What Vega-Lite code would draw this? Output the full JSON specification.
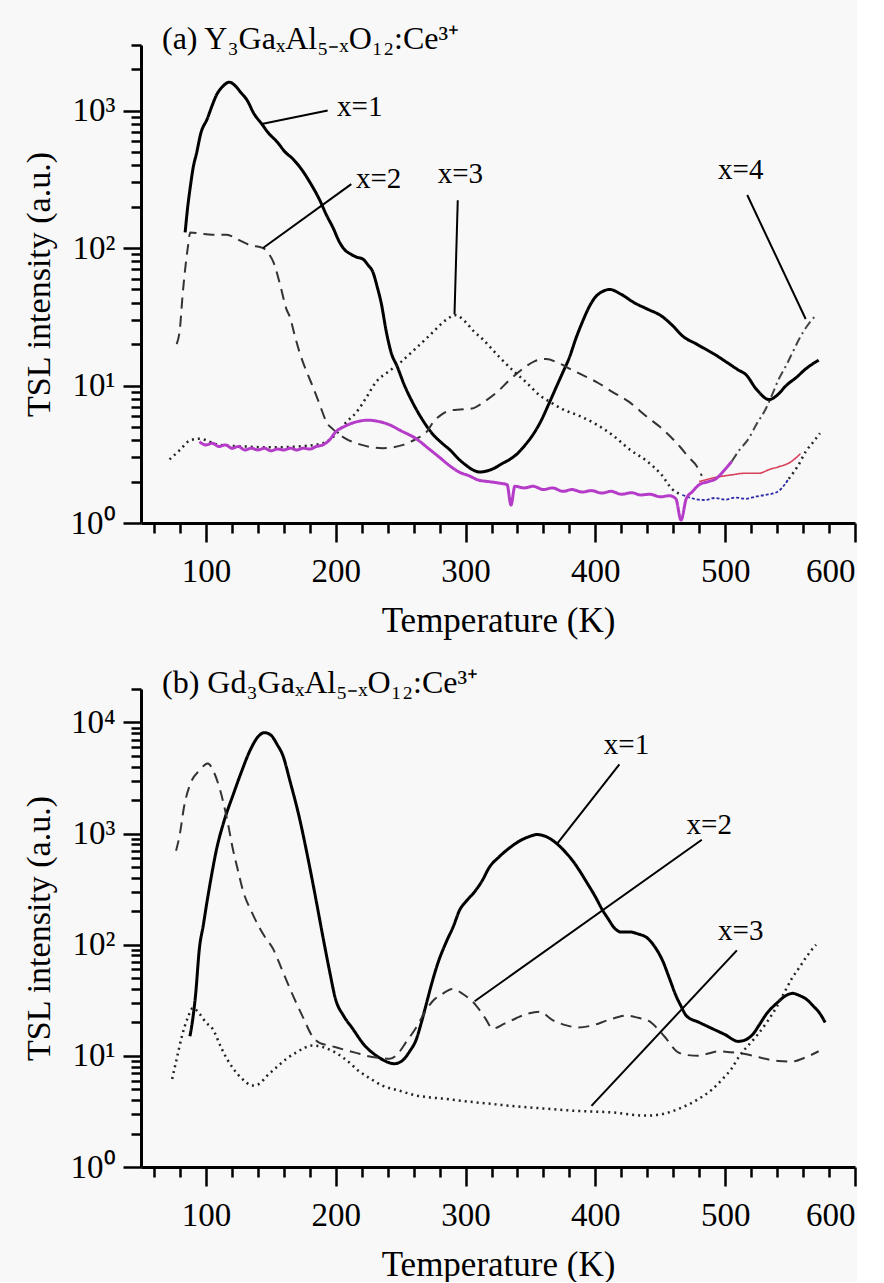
{
  "$schema": "https://vega.github.io/schema/vega-lite/v6.json",
  "background": "#f8f8f8",
  "padding": {"left": 22, "top": 22, "right": 0, "bottom": 0},
  "spacing": 28,
  "config": {
    "view": {"stroke": null},
    "font": "Liberation Serif",
    "axis": {"grid": false, "domainColor": "black", "domainWidth": 3, "tickColor": "black", "tickWidth": 2.5, "labelFont": "Liberation Serif", "labelFontSize": 33, "labelColor": "black", "titleFont": "Liberation Serif", "titleFontSize": 35, "titleFontWeight": "normal", "titleColor": "black"},
    "title": {"font": "Liberation Serif", "fontWeight": "normal", "color": "black"}
  },
  "datasets": {
    "la": [
      {"s":"a1","T":84,"I":130},{"s":"a1","T":86,"I":200},{"s":"a1","T":88,"I":280},{"s":"a1","T":90,"I":376},{"s":"a1","T":93,"I":500},{"s":"a1","T":96,"I":680},{"s":"a1","T":101,"I":870},{"s":"a1","T":105,"I":1100},{"s":"a1","T":108,"I":1290},{"s":"a1","T":113,"I":1500},{"s":"a1","T":118,"I":1610},{"s":"a1","T":123,"I":1500},{"s":"a1","T":127,"I":1350},{"s":"a1","T":131.5,"I":1200},{"s":"a1","T":137,"I":950},{"s":"a1","T":143,"I":800},{"s":"a1","T":148,"I":690},{"s":"a1","T":155,"I":590},{"s":"a1","T":161,"I":500},{"s":"a1","T":167,"I":445},{"s":"a1","T":174,"I":370},{"s":"a1","T":180,"I":302},{"s":"a1","T":187,"I":230},{"s":"a1","T":193,"I":173},{"s":"a1","T":198,"I":140},{"s":"a1","T":203,"I":110},{"s":"a1","T":207,"I":97},{"s":"a1","T":211,"I":91},{"s":"a1","T":216,"I":86},{"s":"a1","T":221,"I":83},{"s":"a1","T":225,"I":75},{"s":"a1","T":228.6,"I":67},{"s":"a1","T":232,"I":52},{"s":"a1","T":235,"I":40},{"s":"a1","T":239,"I":24.5},{"s":"a1","T":243,"I":17},{"s":"a1","T":247,"I":14},{"s":"a1","T":253,"I":10},{"s":"a1","T":259,"I":7.6},{"s":"a1","T":267,"I":5.6},{"s":"a1","T":275,"I":4.4},{"s":"a1","T":282,"I":3.8},{"s":"a1","T":288,"I":3.4},{"s":"a1","T":295,"I":2.9},{"s":"a1","T":300,"I":2.65},{"s":"a1","T":305,"I":2.45},{"s":"a1","T":311,"I":2.35},{"s":"a1","T":317,"I":2.4},{"s":"a1","T":322,"I":2.5},{"s":"a1","T":328,"I":2.7},{"s":"a1","T":334,"I":2.9},{"s":"a1","T":340,"I":3.2},{"s":"a1","T":346,"I":3.7},{"s":"a1","T":352,"I":4.4},{"s":"a1","T":358,"I":5.5},{"s":"a1","T":364,"I":7.3},{"s":"a1","T":370,"I":9.8},{"s":"a1","T":375,"I":12.5},{"s":"a1","T":380,"I":16},{"s":"a1","T":385,"I":22},{"s":"a1","T":390,"I":29},{"s":"a1","T":395,"I":37},{"s":"a1","T":400,"I":44},{"s":"a1","T":405,"I":48},{"s":"a1","T":411,"I":50},{"s":"a1","T":420,"I":46},{"s":"a1","T":430,"I":40},{"s":"a1","T":440,"I":36},{"s":"a1","T":451,"I":32},{"s":"a1","T":460,"I":27},{"s":"a1","T":467,"I":23},{"s":"a1","T":478,"I":20},{"s":"a1","T":493,"I":16.6},{"s":"a1","T":501,"I":14.8},{"s":"a1","T":510,"I":13},{"s":"a1","T":516,"I":12},{"s":"a1","T":524,"I":9.4},{"s":"a1","T":534,"I":7.9},{"s":"a1","T":540,"I":8.5},{"s":"a1","T":547,"I":10},{"s":"a1","T":555,"I":11.5},{"s":"a1","T":562,"I":13.2},{"s":"a1","T":572,"I":15.3},
      {"s":"a2","T":77.5,"I":20},{"s":"a2","T":80,"I":26},{"s":"a2","T":82,"I":45},{"s":"a2","T":84,"I":70},{"s":"a2","T":86,"I":100},{"s":"a2","T":88,"I":130},{"s":"a2","T":95,"I":128},{"s":"a2","T":105,"I":125},{"s":"a2","T":116,"I":125},{"s":"a2","T":125,"I":115},{"s":"a2","T":134,"I":105},{"s":"a2","T":144,"I":100},{"s":"a2","T":148,"I":92},{"s":"a2","T":152,"I":79},{"s":"a2","T":157,"I":55},{"s":"a2","T":162,"I":36},{"s":"a2","T":165,"I":31},{"s":"a2","T":168,"I":24},{"s":"a2","T":172,"I":17.6},{"s":"a2","T":177,"I":13},{"s":"a2","T":182,"I":10},{"s":"a2","T":186,"I":8},{"s":"a2","T":189,"I":6.7},{"s":"a2","T":193,"I":5.4},{"s":"a2","T":198,"I":4.8},{"s":"a2","T":208,"I":4.1},{"s":"a2","T":220,"I":3.7},{"s":"a2","T":236,"I":3.5},{"s":"a2","T":252,"I":3.7},{"s":"a2","T":262,"I":4.1},{"s":"a2","T":270,"I":4.6},{"s":"a2","T":275,"I":5.4},{"s":"a2","T":282,"I":6.2},{"s":"a2","T":288,"I":6.6},{"s":"a2","T":296,"I":6.7},{"s":"a2","T":305,"I":6.8},{"s":"a2","T":315,"I":7.7},{"s":"a2","T":324,"I":8.9},{"s":"a2","T":334,"I":11},{"s":"a2","T":344,"I":13.2},{"s":"a2","T":353,"I":15},{"s":"a2","T":362,"I":15.6},{"s":"a2","T":372,"I":14.5},{"s":"a2","T":382,"I":13},{"s":"a2","T":391,"I":11.8},{"s":"a2","T":401,"I":10.6},{"s":"a2","T":413,"I":9},{"s":"a2","T":426,"I":7.6},{"s":"a2","T":439,"I":6},{"s":"a2","T":452,"I":4.8},{"s":"a2","T":465,"I":3.6},{"s":"a2","T":472,"I":3.0},{"s":"a2","T":478,"I":2.6},{"s":"a2","T":482,"I":2.2},
      {"s":"a2t","T":480,"I":2.0},{"s":"a2t","T":493,"I":2.15},{"s":"a2t","T":505,"I":2.24},{"s":"a2t","T":515,"I":2.3},{"s":"a2t","T":526,"I":2.3},{"s":"a2t","T":534,"I":2.45},{"s":"a2t","T":541,"I":2.56},{"s":"a2t","T":551,"I":2.8},{"s":"a2t","T":558,"I":3.2},
      {"s":"a3","T":72,"I":2.9},{"s":"a3","T":80,"I":3.4},{"s":"a3","T":88,"I":4.0},{"s":"a3","T":95,"I":4.1},{"s":"a3","T":110,"I":3.7},{"s":"a3","T":130,"I":3.6},{"s":"a3","T":150,"I":3.55},{"s":"a3","T":170,"I":3.6},{"s":"a3","T":190,"I":3.8},{"s":"a3","T":200,"I":4.4},{"s":"a3","T":208,"I":5.4},{"s":"a3","T":216,"I":6.4},{"s":"a3","T":224,"I":8.3},{"s":"a3","T":231,"I":10.6},{"s":"a3","T":240,"I":12.5},{"s":"a3","T":249,"I":14.5},{"s":"a3","T":260,"I":18},{"s":"a3","T":272,"I":23},{"s":"a3","T":285,"I":30},{"s":"a3","T":292,"I":32.5},{"s":"a3","T":300,"I":29},{"s":"a3","T":306,"I":25},{"s":"a3","T":313,"I":21.8},{"s":"a3","T":325,"I":16.5},{"s":"a3","T":336,"I":13},{"s":"a3","T":347,"I":10.5},{"s":"a3","T":357,"I":8.5},{"s":"a3","T":366,"I":7.5},{"s":"a3","T":375,"I":6.7},{"s":"a3","T":388,"I":6},{"s":"a3","T":401,"I":5.2},{"s":"a3","T":414,"I":4.3},{"s":"a3","T":426,"I":3.45},{"s":"a3","T":440,"I":2.8},{"s":"a3","T":451,"I":2.24},{"s":"a3","T":459,"I":1.77},{"s":"a3","T":467,"I":1.6},
      {"s":"a3t","T":467,"I":1.6},{"s":"a3t","T":476,"I":1.5},{"s":"a3t","T":484,"I":1.47},{"s":"a3t","T":492,"I":1.52},{"s":"a3t","T":500,"I":1.48},{"s":"a3t","T":508,"I":1.53},{"s":"a3t","T":516,"I":1.5},{"s":"a3t","T":524,"I":1.56},{"s":"a3t","T":531,"I":1.6},{"s":"a3t","T":540,"I":1.68},{"s":"a3t","T":549,"I":2.1},
      {"s":"a3e","T":549,"I":2.1},{"s":"a3e","T":556,"I":2.6},{"s":"a3e","T":562,"I":3.3},{"s":"a3e","T":568,"I":3.9},{"s":"a3e","T":573,"I":4.5},
      {"s":"a4","T":95,"I":3.9},{"s":"a4","T":100,"I":3.7},{"s":"a4","T":105,"I":3.8},{"s":"a4","T":110,"I":3.6},{"s":"a4","T":115,"I":3.7},{"s":"a4","T":120,"I":3.5},{"s":"a4","T":125,"I":3.6},{"s":"a4","T":130,"I":3.4},{"s":"a4","T":135,"I":3.5},{"s":"a4","T":140,"I":3.4},{"s":"a4","T":145,"I":3.5},{"s":"a4","T":150,"I":3.35},{"s":"a4","T":155,"I":3.45},{"s":"a4","T":160,"I":3.4},{"s":"a4","T":165,"I":3.5},{"s":"a4","T":170,"I":3.4},{"s":"a4","T":175,"I":3.5},{"s":"a4","T":180,"I":3.45},{"s":"a4","T":185,"I":3.6},{"s":"a4","T":190,"I":3.7},{"s":"a4","T":195,"I":4.0},{"s":"a4","T":200,"I":4.6},{"s":"a4","T":206,"I":5.0},{"s":"a4","T":212,"I":5.3},{"s":"a4","T":218,"I":5.5},{"s":"a4","T":225,"I":5.6},{"s":"a4","T":232,"I":5.5},{"s":"a4","T":241,"I":5.2},{"s":"a4","T":250,"I":4.7},{"s":"a4","T":262,"I":4.1},{"s":"a4","T":272,"I":3.45},{"s":"a4","T":280,"I":3.0},{"s":"a4","T":288,"I":2.6},{"s":"a4","T":295,"I":2.35},{"s":"a4","T":303,"I":2.2},{"s":"a4","T":310,"I":2.05},{"s":"a4","T":318,"I":2.0},{"s":"a4","T":326,"I":1.95},{"s":"a4","T":332,"I":1.9},{"s":"a4","T":335,"I":1.35},{"s":"a4","T":338,"I":1.85},{"s":"a4","T":345,"I":1.8},{"s":"a4","T":352,"I":1.85},{"s":"a4","T":360,"I":1.75},{"s":"a4","T":367,"I":1.8},{"s":"a4","T":375,"I":1.7},{"s":"a4","T":382,"I":1.75},{"s":"a4","T":390,"I":1.68},{"s":"a4","T":397,"I":1.72},{"s":"a4","T":405,"I":1.65},{"s":"a4","T":412,"I":1.7},{"s":"a4","T":420,"I":1.62},{"s":"a4","T":428,"I":1.66},{"s":"a4","T":435,"I":1.6},{"s":"a4","T":442,"I":1.62},{"s":"a4","T":450,"I":1.55},{"s":"a4","T":457,"I":1.58},{"s":"a4","T":462,"I":1.5},{"s":"a4","T":466,"I":1.05},{"s":"a4","T":470,"I":1.5},{"s":"a4","T":475,"I":1.7},{"s":"a4","T":480,"I":1.9},{"s":"a4","T":487,"I":2.0},{"s":"a4","T":493,"I":2.1},{"s":"a4","T":499,"I":2.4},{"s":"a4","T":505,"I":2.8},
      {"s":"a4d","T":505,"I":2.8},{"s":"a4d","T":511,"I":3.4},{"s":"a4d","T":518,"I":4.1},{"s":"a4d","T":524,"I":5.2},{"s":"a4d","T":531,"I":6.7},{"s":"a4d","T":536,"I":8.5},{"s":"a4d","T":541,"I":11},{"s":"a4d","T":547,"I":14},{"s":"a4d","T":552,"I":17.5},{"s":"a4d","T":557,"I":21.8},{"s":"a4d","T":563,"I":27},{"s":"a4d","T":570,"I":32.6}
    ],
    "lb": [
      {"s":"b1","T":87.7,"I":15},{"s":"b1","T":90,"I":22},{"s":"b1","T":92,"I":35},{"s":"b1","T":95,"I":93},{"s":"b1","T":98,"I":150},{"s":"b1","T":101,"I":250},{"s":"b1","T":104,"I":400},{"s":"b1","T":108,"I":705},{"s":"b1","T":114,"I":1300},{"s":"b1","T":121,"I":2240},{"s":"b1","T":127,"I":3500},{"s":"b1","T":134,"I":5600},{"s":"b1","T":140,"I":7400},{"s":"b1","T":145,"I":8100},{"s":"b1","T":150,"I":7700},{"s":"b1","T":155,"I":6300},{"s":"b1","T":159,"I":5150},{"s":"b1","T":165,"I":2900},{"s":"b1","T":172,"I":1390},{"s":"b1","T":178,"I":650},{"s":"b1","T":185,"I":247},{"s":"b1","T":190,"I":120},{"s":"b1","T":195,"I":60},{"s":"b1","T":200,"I":32},{"s":"b1","T":206,"I":23},{"s":"b1","T":213,"I":17.6},{"s":"b1","T":222,"I":12.5},{"s":"b1","T":231.5,"I":10},{"s":"b1","T":238,"I":9},{"s":"b1","T":245,"I":8.5},{"s":"b1","T":251,"I":9},{"s":"b1","T":257,"I":11},{"s":"b1","T":262,"I":14},{"s":"b1","T":266,"I":20},{"s":"b1","T":270,"I":30},{"s":"b1","T":274,"I":45},{"s":"b1","T":279,"I":70},{"s":"b1","T":285,"I":105},{"s":"b1","T":291,"I":150},{"s":"b1","T":295,"I":200},{"s":"b1","T":301,"I":250},{"s":"b1","T":307,"I":300},{"s":"b1","T":313,"I":380},{"s":"b1","T":318,"I":490},{"s":"b1","T":326,"I":620},{"s":"b1","T":334,"I":745},{"s":"b1","T":341,"I":850},{"s":"b1","T":348,"I":930},{"s":"b1","T":355,"I":980},{"s":"b1","T":361,"I":950},{"s":"b1","T":367,"I":870},{"s":"b1","T":372,"I":780},{"s":"b1","T":378,"I":660},{"s":"b1","T":383,"I":560},{"s":"b1","T":388,"I":460},{"s":"b1","T":393,"I":370},{"s":"b1","T":400,"I":270},{"s":"b1","T":405,"I":210},{"s":"b1","T":410,"I":170},{"s":"b1","T":415,"I":140},{"s":"b1","T":420,"I":130},{"s":"b1","T":427,"I":130},{"s":"b1","T":433,"I":125},{"s":"b1","T":440,"I":115},{"s":"b1","T":446,"I":95},{"s":"b1","T":452,"I":71},{"s":"b1","T":457,"I":50},{"s":"b1","T":462,"I":35},{"s":"b1","T":466,"I":28},{"s":"b1","T":470,"I":23},{"s":"b1","T":480,"I":20},{"s":"b1","T":490,"I":17.6},{"s":"b1","T":500,"I":15.5},{"s":"b1","T":510,"I":13.5},{"s":"b1","T":516,"I":14},{"s":"b1","T":522,"I":16},{"s":"b1","T":526,"I":18.8},{"s":"b1","T":532,"I":24},{"s":"b1","T":540,"I":30},{"s":"b1","T":547,"I":35},{"s":"b1","T":552,"I":36.5},{"s":"b1","T":557,"I":35},{"s":"b1","T":563,"I":32},{"s":"b1","T":568,"I":28},{"s":"b1","T":573,"I":24},{"s":"b1","T":577,"I":20},
      {"s":"b2","T":77,"I":700},{"s":"b2","T":80,"I":1000},{"s":"b2","T":83,"I":1700},{"s":"b2","T":88,"I":2800},{"s":"b2","T":95,"I":3700},{"s":"b2","T":101.5,"I":4270},{"s":"b2","T":106,"I":3600},{"s":"b2","T":111,"I":2450},{"s":"b2","T":116,"I":1400},{"s":"b2","T":121,"I":705},{"s":"b2","T":125,"I":450},{"s":"b2","T":128.6,"I":305},{"s":"b2","T":135,"I":200},{"s":"b2","T":141.5,"I":141},{"s":"b2","T":146,"I":115},{"s":"b2","T":151.5,"I":93},{"s":"b2","T":158,"I":62},{"s":"b2","T":163,"I":45},{"s":"b2","T":167,"I":35},{"s":"b2","T":175,"I":22},{"s":"b2","T":182,"I":15},{"s":"b2","T":188,"I":13},{"s":"b2","T":195,"I":12.4},{"s":"b2","T":205,"I":11.5},{"s":"b2","T":215,"I":10.7},{"s":"b2","T":224,"I":10},{"s":"b2","T":233,"I":9.6},{"s":"b2","T":241.5,"I":9.4},{"s":"b2","T":248,"I":10.5},{"s":"b2","T":254.6,"I":13.5},{"s":"b2","T":262,"I":18},{"s":"b2","T":268,"I":24},{"s":"b2","T":274.6,"I":31},{"s":"b2","T":282,"I":36},{"s":"b2","T":290,"I":40},{"s":"b2","T":298,"I":36},{"s":"b2","T":308,"I":28.5},{"s":"b2","T":315,"I":22},{"s":"b2","T":321,"I":17.6},{"s":"b2","T":330,"I":19.5},{"s":"b2","T":339,"I":21.8},{"s":"b2","T":348,"I":24},{"s":"b2","T":357,"I":25},{"s":"b2","T":367,"I":21},{"s":"b2","T":377.7,"I":18.8},{"s":"b2","T":387,"I":18},{"s":"b2","T":397.7,"I":18.8},{"s":"b2","T":410,"I":21},{"s":"b2","T":424,"I":23},{"s":"b2","T":433,"I":22},{"s":"b2","T":441.5,"I":20.5},{"s":"b2","T":448,"I":17.5},{"s":"b2","T":454.6,"I":14.3},{"s":"b2","T":462.5,"I":11},{"s":"b2","T":470,"I":10.2},{"s":"b2","T":480,"I":10},{"s":"b2","T":487,"I":10.5},{"s":"b2","T":495,"I":11},{"s":"b2","T":504,"I":10.8},{"s":"b2","T":513,"I":10.5},{"s":"b2","T":522,"I":10},{"s":"b2","T":531,"I":9.4},{"s":"b2","T":541,"I":9},{"s":"b2","T":551.5,"I":8.9},{"s":"b2","T":562,"I":9.7},{"s":"b2","T":572,"I":11},
      {"s":"b3","T":74,"I":6.2},{"s":"b3","T":77.5,"I":9.4},{"s":"b3","T":81.5,"I":15},{"s":"b3","T":86,"I":22},{"s":"b3","T":90,"I":27},{"s":"b3","T":95,"I":24},{"s":"b3","T":100,"I":20},{"s":"b3","T":105,"I":17.6},{"s":"b3","T":112,"I":11.7},{"s":"b3","T":116,"I":9.5},{"s":"b3","T":121,"I":7.7},{"s":"b3","T":128,"I":6.2},{"s":"b3","T":136,"I":5.4},{"s":"b3","T":141,"I":5.6},{"s":"b3","T":147,"I":6.6},{"s":"b3","T":155,"I":8},{"s":"b3","T":162,"I":9.4},{"s":"b3","T":170,"I":10.8},{"s":"b3","T":176,"I":11.8},{"s":"b3","T":182,"I":12.4},{"s":"b3","T":190,"I":12},{"s":"b3","T":198,"I":11},{"s":"b3","T":208,"I":9.2},{"s":"b3","T":218.5,"I":7.2},{"s":"b3","T":227,"I":6.2},{"s":"b3","T":236,"I":5.4},{"s":"b3","T":248,"I":4.9},{"s":"b3","T":262,"I":4.4},{"s":"b3","T":275,"I":4.2},{"s":"b3","T":285,"I":4.1},{"s":"b3","T":300,"I":3.9},{"s":"b3","T":320,"I":3.7},{"s":"b3","T":340,"I":3.5},{"s":"b3","T":362,"I":3.35},{"s":"b3","T":385,"I":3.2},{"s":"b3","T":413,"I":3.1},{"s":"b3","T":439,"I":2.9},{"s":"b3","T":452,"I":3.0},{"s":"b3","T":464.6,"I":3.35},{"s":"b3","T":478,"I":4.0},{"s":"b3","T":490,"I":5},{"s":"b3","T":498,"I":6.2},{"s":"b3","T":505,"I":7.7},{"s":"b3","T":511,"I":10},{"s":"b3","T":518,"I":12.5},{"s":"b3","T":524,"I":15},{"s":"b3","T":532,"I":20},{"s":"b3","T":540,"I":28},{"s":"b3","T":546,"I":38},{"s":"b3","T":551.5,"I":50},{"s":"b3","T":557,"I":62},{"s":"b3","T":562,"I":76},{"s":"b3","T":566,"I":88},{"s":"b3","T":570,"I":100}
    ],
    "ra": [
      {"T1":193.8,"I1":1000,"T2":143,"I2":800},
      {"T1":212,"I1":292,"T2":144,"I2":100},
      {"T1":294,"I1":223,"T2":291.5,"I2":33},
      {"T1":517,"I1":243,"T2":562,"I2":30.5}
    ],
    "rb": [
      {"T1":418.5,"I1":4200,"T2":370,"I2":795},
      {"T1":482,"I1":880,"T2":307,"I2":31},
      {"T1":509,"I1":89,"T2":397,"I2":3.55}
    ],
    "ta": [
      {"T":218.5,"I":1060,"lab":"x=1"},
      {"T":233,"I":318,"lab":"x=2"},
      {"T":296,"I":345,"lab":"x=3"},
      {"T":512,"I":369,"lab":"x=4"}
    ],
    "tb": [
      {"T":424,"I":6330,"lab":"x=1"},
      {"T":487.7,"I":1200,"lab":"x=2"},
      {"T":512,"I":133,"lab":"x=3"}
    ]
  },
  "vconcat": [
    {
      "width": 714,
      "height": 478,
      "title": {"text": "(a) Y₃GaₓAl₅₋ₓO₁₂:Ce³⁺", "anchor": "start", "frame": "group", "offset": -12, "dx": 21, "fontSize": 32},
      "resolve": {"axis": {"x": "independent", "y": "independent"}},
      "layer": [
        {
          "data": {"name": "la"},
          "mark": {"type": "line", "interpolate": "monotone"},
          "encoding": {
            "x": {"field": "T", "type": "quantitative", "scale": {"domain": [50, 600], "nice": false, "zero": false},
                  "axis": {"orient": "bottom", "values": [100, 200, 300, 400, 500, 600], "tickSize": 19, "labelPadding": 13, "title": "Temperature (K)", "titlePadding": 15}},
            "y": {"field": "I", "type": "quantitative", "scale": {"type": "log", "domain": [1, 3000], "nice": false},
                  "axis": {"orient": "left", "values": [1, 10, 100, 1000], "tickSize": 18, "labelPadding": 8, "labelExpr": "datum.value == 1 ? '10⁰' : datum.value == 10 ? '10¹' : datum.value == 100 ? '10²' : '10³'", "title": "TSL intensity (a.u.)", "titlePadding": 14, "titleFontSize": 34}},
            "detail": {"field": "s"},
            "color": {"field": "s", "type": "nominal", "legend": null, "scale": {"domain": ["a1","a2","a2t","a3","a3t","a3e","a4","a4d","b1","b2","b3"], "range": ["#000000","#333333","#d8405a","#222222","#2a2aa8","#222222","#b53cc8","#444444","#000000","#333333","#222222"]}},
            "strokeDash": {"field": "s", "type": "nominal", "legend": null, "scale": {"domain": ["a1","a2","a2t","a3","a3t","a3e","a4","a4d","b1","b2","b3"], "range": [[1,0],[11,7],[1,0],[2,4],[3,2],[2,4],[1,0],[9,4,2,4],[1,0],[11,7],[2,4]]}},
            "strokeWidth": {"field": "s", "type": "ordinal", "legend": null, "scale": {"type": "ordinal", "domain": ["a1","a2","a2t","a3","a3t","a3e","a4","a4d","b1","b2","b3"], "range": [3,2,1.6,2.5,1.8,2.5,3,2,3,2,2.5]}}
          }
        },
        {
          "data": {"name": "ra"},
          "mark": {"type": "rule", "color": "black", "strokeWidth": 2},
          "encoding": {
            "x": {"field": "T1", "type": "quantitative", "axis": {"orient": "bottom", "values": [60,80,120,140,160,180,220,240,260,280,320,340,360,380,420,440,460,480,520,540,560,580], "tickSize": 10, "labels": false, "domain": false, "title": null}},
            "y": {"field": "I1", "type": "quantitative", "axis": {"orient": "left", "values": [2,3,4,5,6,7,8,9,20,30,40,50,60,70,80,90,200,300,400,500,600,700,800,900,2000,3000], "tickSize": 10, "labels": false, "domain": false, "title": null}},
            "x2": {"field": "T2"},
            "y2": {"field": "I2"}
          }
        },
        {
          "data": {"name": "ta"},
          "mark": {"type": "text", "font": "Liberation Serif", "fontSize": 29, "align": "center", "baseline": "middle", "color": "black"},
          "encoding": {
            "x": {"field": "T", "type": "quantitative", "axis": null},
            "y": {"field": "I", "type": "quantitative", "axis": null},
            "text": {"field": "lab"}
          }
        }
      ]
    },
    {
      "width": 714,
      "height": 478,
      "title": {"text": "(b) Gd₃GaₓAl₅₋ₓO₁₂:Ce³⁺", "anchor": "start", "frame": "group", "offset": -12, "dx": 21, "fontSize": 32},
      "resolve": {"axis": {"x": "independent", "y": "independent"}},
      "layer": [
        {
          "data": {"name": "lb"},
          "mark": {"type": "line", "interpolate": "monotone"},
          "encoding": {
            "x": {"field": "T", "type": "quantitative", "scale": {"domain": [50, 600], "nice": false, "zero": false},
                  "axis": {"orient": "bottom", "values": [100, 200, 300, 400, 500, 600], "tickSize": 19, "labelPadding": 13, "title": "Temperature (K)", "titlePadding": 15}},
            "y": {"field": "I", "type": "quantitative", "scale": {"type": "log", "domain": [1, 20000], "nice": false},
                  "axis": {"orient": "left", "values": [1, 10, 100, 1000, 10000], "tickSize": 18, "labelPadding": 8, "labelExpr": "datum.value == 1 ? '10⁰' : datum.value == 10 ? '10¹' : datum.value == 100 ? '10²' : datum.value == 1000 ? '10³' : '10⁴'", "title": "TSL intensity (a.u.)", "titlePadding": 14, "titleFontSize": 34}},
            "detail": {"field": "s"},
            "color": {"field": "s", "type": "nominal", "legend": null, "scale": {"domain": ["a1","a2","a2t","a3","a3t","a3e","a4","a4d","b1","b2","b3"], "range": ["#000000","#333333","#d8405a","#222222","#2a2aa8","#222222","#b53cc8","#444444","#000000","#333333","#222222"]}},
            "strokeDash": {"field": "s", "type": "nominal", "legend": null, "scale": {"domain": ["a1","a2","a2t","a3","a3t","a3e","a4","a4d","b1","b2","b3"], "range": [[1,0],[11,7],[1,0],[2,4],[3,2],[2,4],[1,0],[9,4,2,4],[1,0],[11,7],[2,4]]}},
            "strokeWidth": {"field": "s", "type": "ordinal", "legend": null, "scale": {"type": "ordinal", "domain": ["a1","a2","a2t","a3","a3t","a3e","a4","a4d","b1","b2","b3"], "range": [3,2,1.6,2.5,1.8,2.5,3,2,3,2,2.5]}}
          }
        },
        {
          "data": {"name": "rb"},
          "mark": {"type": "rule", "color": "black", "strokeWidth": 2},
          "encoding": {
            "x": {"field": "T1", "type": "quantitative", "axis": {"orient": "bottom", "values": [60,80,120,140,160,180,220,240,260,280,320,340,360,380,420,440,460,480,520,540,560,580], "tickSize": 10, "labels": false, "domain": false, "title": null}},
            "y": {"field": "I1", "type": "quantitative", "axis": {"orient": "left", "values": [2,3,4,5,6,7,8,9,20,30,40,50,60,70,80,90,200,300,400,500,600,700,800,900,2000,3000,4000,5000,6000,7000,8000,9000,20000], "tickSize": 10, "labels": false, "domain": false, "title": null}},
            "x2": {"field": "T2"},
            "y2": {"field": "I2"}
          }
        },
        {
          "data": {"name": "tb"},
          "mark": {"type": "text", "font": "Liberation Serif", "fontSize": 29, "align": "center", "baseline": "middle", "color": "black"},
          "encoding": {
            "x": {"field": "T", "type": "quantitative", "axis": null},
            "y": {"field": "I", "type": "quantitative", "axis": null},
            "text": {"field": "lab"}
          }
        }
      ]
    }
  ]
}
